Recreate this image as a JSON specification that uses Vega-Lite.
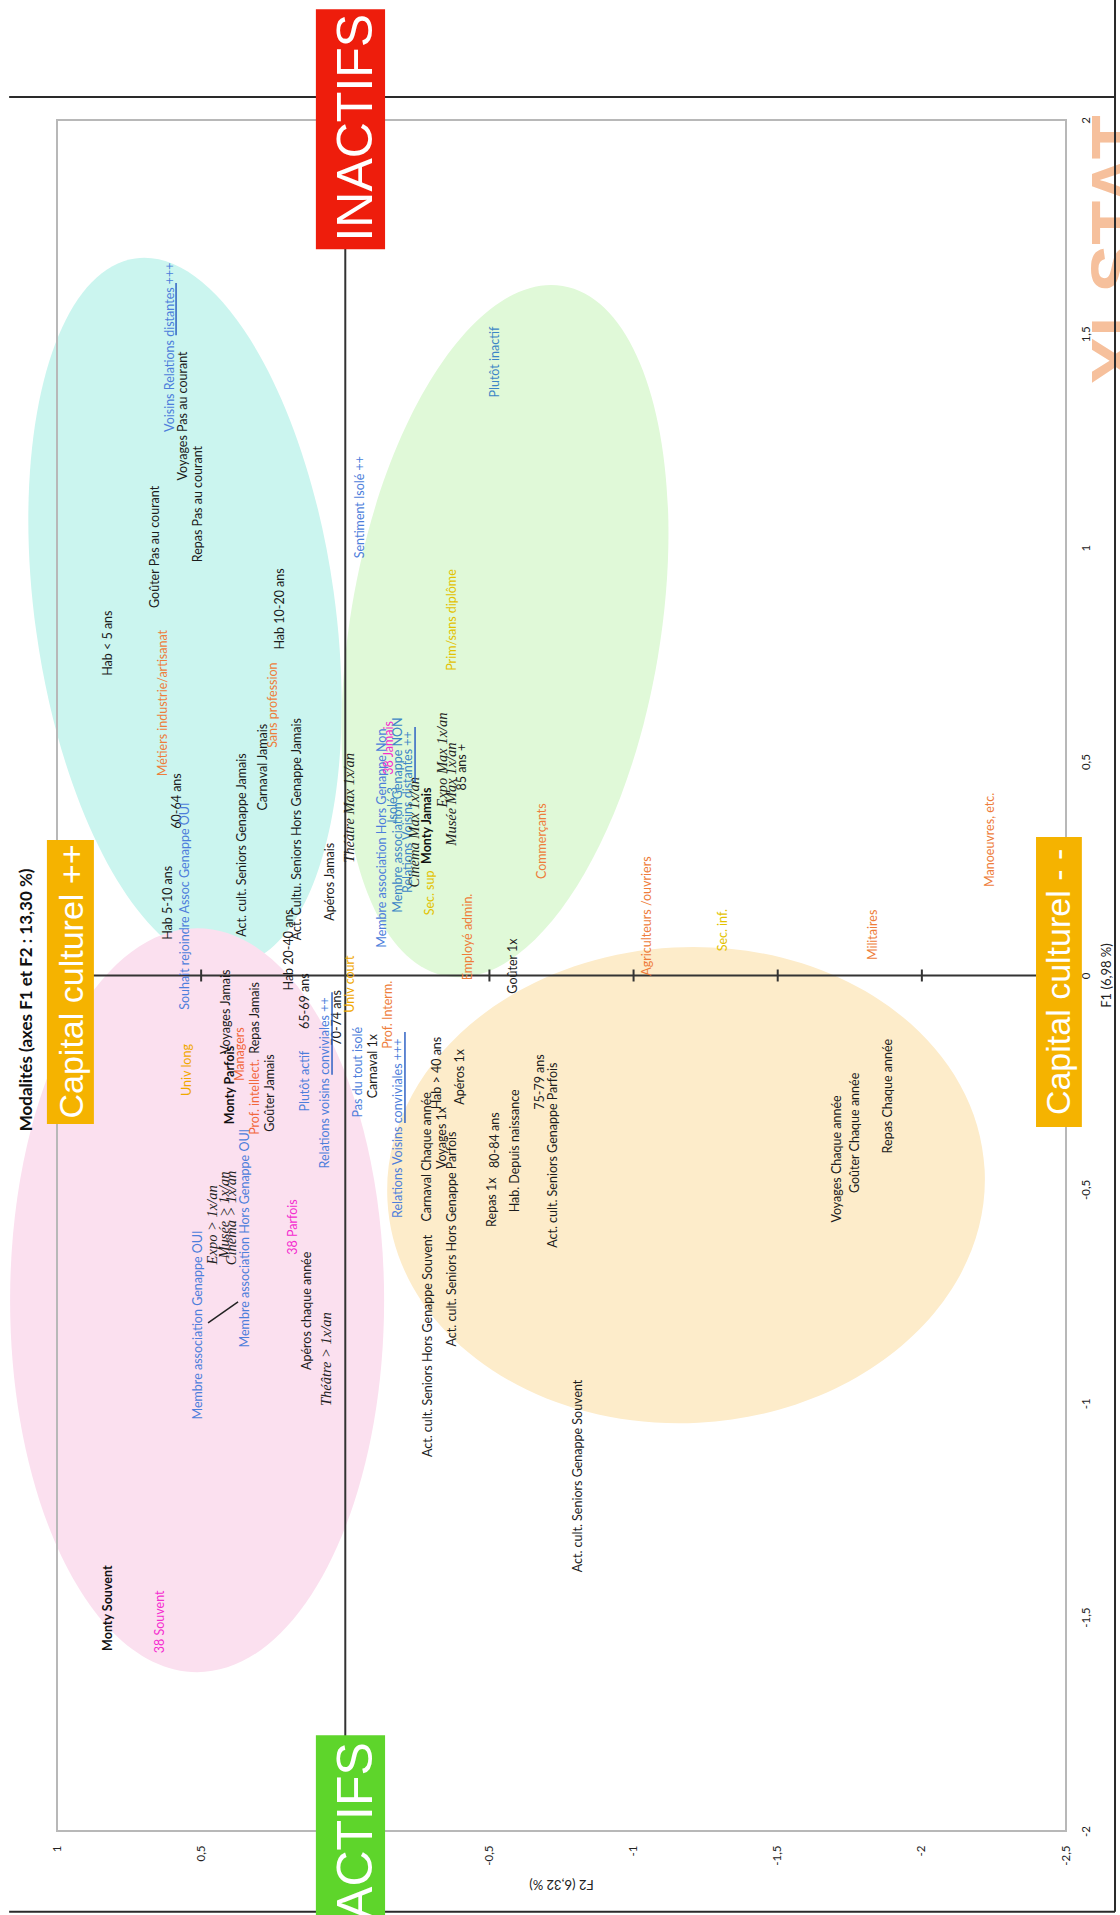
{
  "$schema": "https://vega.github.io/schema/vega-lite/v6.json",
  "width": 1009,
  "height": 1711,
  "autosize": {"type": "none"},
  "padding": {"left": 57, "top": 120, "right": 54, "bottom": 84},
  "background": "white",
  "config": {"view": {"stroke": null}},
  "resolve": {"scale": {"color": "independent"}},
  "datasets": {
    "ell": [
      {"e": "cyan", "F2": 0.556, "F1": 0.85},
      {"e": "vert", "F2": -0.554, "F1": 0.805},
      {"e": "rose", "F2": 0.514, "F1": -0.759},
      {"e": "orange", "F2": -1.182, "F1": -0.49}
    ],
    "cadre": [{"F2": 1, "F2b": -2.5, "F1": 2, "F1b": -2}],
    "seg": [
      {"k": "axe", "F2": 1, "F2b": -2.5, "F1": 0, "F1b": 0},
      {"k": "axe", "F2": 0, "F2b": 0, "F1": 2, "F1b": -2},
      {"k": "axe", "F2": 0.5, "F2b": 0.5, "F1": 0.014, "F1b": -0.014},
      {"k": "axe", "F2": -0.5, "F2b": -0.5, "F1": 0.014, "F1b": -0.014},
      {"k": "axe", "F2": -1, "F2b": -1, "F1": 0.014, "F1b": -0.014},
      {"k": "axe", "F2": -1.5, "F2b": -1.5, "F1": 0.014, "F1b": -0.014},
      {"k": "axe", "F2": -2, "F2b": -2, "F1": 0.014, "F1b": -0.014},
      {"k": "cadre", "F2": 1.166, "F2b": -2.67, "F1": 2.054, "F1b": 2.054},
      {"k": "cadre", "F2": -2.67, "F2b": -2.67, "F1": 2.281, "F1b": -2.189},
      {"k": "cadre", "F2": 1.166, "F2b": -2.67, "F1": -2.189, "F1b": -2.189},
      {"k": "trait", "F2": 0.476, "F2b": 0.372, "F1": -0.812, "F1b": -0.763},
      {"k": "souligne", "F2": 0.587, "F2b": 0.587, "F1": 1.619, "F1b": 1.497},
      {"k": "souligne", "F2": 0.046, "F2b": 0.046, "F1": -0.039, "F1b": -0.232},
      {"k": "souligne", "F2": -0.207, "F2b": -0.207, "F1": -0.132, "F1b": -0.345},
      {"k": "souligne", "F2": -0.242, "F2b": -0.242, "F1": 0.581, "F1b": 0.452}
    ],
    "lab": [
      {"t": "Voisins Relations distantes +++", "g": "b", "F2": 0.608, "F1": 1.469},
      {"t": "Voyages Pas au courant", "g": "n", "F2": 0.563, "F1": 1.308},
      {"t": "Repas Pas au courant", "g": "n", "F2": 0.511, "F1": 1.102},
      {"t": "Goûter Pas au courant", "g": "n", "F2": 0.66, "F1": 1.002},
      {"t": "Hab < 5 ans", "g": "n", "F2": 0.823, "F1": 0.777},
      {"t": "Métiers industrie/artisanat", "g": "o", "F2": 0.632, "F1": 0.637},
      {"t": "Hab 10-20 ans", "g": "n", "F2": 0.226, "F1": 0.857},
      {"t": "Sans profession", "g": "o", "F2": 0.251, "F1": 0.632},
      {"t": "Carnaval Jamais", "g": "n", "F2": 0.285, "F1": 0.487},
      {"t": "60-64 ans", "g": "n", "F2": 0.584, "F1": 0.408},
      {"t": "Souhait rejoindre Assoc Genappe OUI", "g": "b", "F2": 0.556, "F1": 0.162},
      {"t": "Hab 5-10 ans", "g": "n", "F2": 0.615, "F1": 0.17},
      {"t": "Act. cult. Seniors Genappe Jamais", "g": "n", "F2": 0.358, "F1": 0.305},
      {"t": "Act. Cultu. Seniors Hors Genappe Jamais", "g": "n", "F2": 0.168, "F1": 0.342},
      {"t": "Hab 20-40 ans", "g": "n", "F2": 0.195, "F1": 0.06},
      {"t": "Apéros Jamais", "g": "n", "F2": 0.053, "F1": 0.219},
      {"t": "Sentiment Isolé ++", "g": "b", "F2": -0.051, "F1": 1.095},
      {"t": "Plutôt inactif", "g": "s", "F2": -0.519, "F1": 1.434},
      {"t": "Membre association Hors Genappe Non", "g": "b", "F2": -0.127, "F1": 0.321},
      {"t": "38 Jamais", "g": "m", "F2": -0.152, "F1": 0.532},
      {"t": "Isolé 3", "g": "s", "F2": -0.165, "F1": 0.399},
      {"t": "Membre association Genappe NON", "g": "s", "F2": -0.183, "F1": 0.375},
      {"t": "Relations Voisins distantes ++", "g": "s", "F2": -0.218, "F1": 0.382},
      {"t": "Sec. sup", "g": "j", "F2": -0.294, "F1": 0.193},
      {"t": "85 ans +", "g": "n", "F2": -0.405, "F1": 0.487},
      {"t": "Prim/sans diplôme", "g": "j", "F2": -0.37, "F1": 0.831},
      {"t": "Commerçants", "g": "o", "F2": -0.682, "F1": 0.314},
      {"t": "Employé admin.", "g": "o", "F2": -0.426, "F1": 0.09},
      {"t": "Agriculteurs /ouvriers", "g": "o", "F2": -1.047, "F1": 0.139},
      {"t": "Sec. inf.", "g": "j", "F2": -1.31, "F1": 0.106},
      {"t": "Goûter 1x", "g": "n", "F2": -0.582, "F1": 0.022},
      {"t": "Manoeuvres, etc.", "g": "o", "F2": -2.236, "F1": 0.317},
      {"t": "Militaires", "g": "o", "F2": -1.83, "F1": 0.095},
      {"t": "Univ long", "g": "u", "F2": 0.549, "F1": -0.221},
      {"t": "Voyages Jamais", "g": "n", "F2": 0.414, "F1": -0.085},
      {"t": "Managers", "g": "r", "F2": 0.365, "F1": -0.184},
      {"t": "Prof. intellect.", "g": "r", "F2": 0.313, "F1": -0.284},
      {"t": "Repas Jamais", "g": "n", "F2": 0.313, "F1": -0.099},
      {"t": "Goûter Jamais", "g": "n", "F2": 0.261, "F1": -0.275},
      {"t": "65-69 ans", "g": "n", "F2": 0.14, "F1": -0.06},
      {"t": "Plutôt actif", "g": "b", "F2": 0.14, "F1": -0.247},
      {"t": "Relations voisins conviviales ++", "g": "b", "F2": 0.07, "F1": -0.251},
      {"t": "70-74 ans", "g": "n", "F2": 0.029, "F1": -0.099},
      {"t": "Univ court", "g": "u", "F2": -0.016, "F1": -0.02},
      {"t": "Pas du tout isolé", "g": "b", "F2": -0.044, "F1": -0.226},
      {"t": "Carnaval 1x", "g": "n", "F2": -0.096, "F1": -0.212},
      {"t": "Membre association Genappe OUI", "g": "b", "F2": 0.511, "F1": -0.817},
      {"t": "Membre association Hors Genappe OUI", "g": "b", "F2": 0.348, "F1": -0.614},
      {"t": "38 Parfois", "g": "m", "F2": 0.181, "F1": -0.588},
      {"t": "Apéros chaque année", "g": "n", "F2": 0.133, "F1": -0.784},
      {"t": "Relations Voisins conviviales +++", "g": "b", "F2": -0.183, "F1": -0.357},
      {"t": "Prof. Interm.", "g": "o", "F2": -0.148, "F1": -0.092},
      {"t": "Act. cult. Seniors Hors Genappe Souvent", "g": "n", "F2": -0.287, "F1": -0.866},
      {"t": "Carnaval Chaque année", "g": "n", "F2": -0.283, "F1": -0.424},
      {"t": "Hab > 40 ans", "g": "n", "F2": -0.318, "F1": -0.228},
      {"t": "Voyages 1x", "g": "n", "F2": -0.335, "F1": -0.38},
      {"t": "Act. cult. Seniors Hors Genappe Parfois", "g": "n", "F2": -0.37, "F1": -0.616},
      {"t": "Apéros 1x", "g": "n", "F2": -0.398, "F1": -0.237},
      {"t": "Repas 1x", "g": "n", "F2": -0.509, "F1": -0.53},
      {"t": "80-84 ans", "g": "n", "F2": -0.519, "F1": -0.385},
      {"t": "Hab. Depuis naissance", "g": "n", "F2": -0.589, "F1": -0.41},
      {"t": "75-79 ans", "g": "n", "F2": -0.675, "F1": -0.249},
      {"t": "Act. cult. Seniors Genappe Parfois", "g": "n", "F2": -0.72, "F1": -0.42},
      {"t": "Act. cult. Seniors Genappe Souvent", "g": "n", "F2": -0.807, "F1": -1.17},
      {"t": "Voyages Chaque année", "g": "n", "F2": -1.706, "F1": -0.429},
      {"t": "Goûter Chaque année", "g": "n", "F2": -1.768, "F1": -0.368},
      {"t": "Repas Chaque année", "g": "n", "F2": -1.882, "F1": -0.282},
      {"t": "38 Souvent", "g": "m", "F2": 0.643, "F1": -1.511}
    ],
    "gras": [
      {"t": "Monty Jamais", "F2": -0.283, "F1": 0.35},
      {"t": "Monty Parfois", "F2": 0.4, "F1": -0.256},
      {"t": "Monty Souvent", "F2": 0.823, "F1": -1.479}
    ],
    "ital": [
      {"t": "Théâtre Max 1x/an", "F2": -0.016, "F1": 0.392},
      {"t": "Cinéma Max 1x/an", "F2": -0.242, "F1": 0.335},
      {"t": "Expo Max 1x/an", "F2": -0.339, "F1": 0.504},
      {"t": "Musée Max 1x/an", "F2": -0.37, "F1": 0.424},
      {"t": "Expo > 1x/an", "F2": 0.459, "F1": -0.583},
      {"t": "Musée > 1x/an", "F2": 0.417, "F1": -0.56},
      {"t": "Cinéma > 1x/an", "F2": 0.393, "F1": -0.567},
      {"t": "Théâtre > 1x/an", "F2": 0.063, "F1": -0.897}
    ],
    "boites": [
      {"b": "rouge", "F2": 0.102, "F2b": -0.138, "F1": 2.259, "F1b": 1.698},
      {"b": "vert", "F2": 0.102, "F2b": -0.138, "F1": -1.776, "F1b": -2.3},
      {"b": "or", "F2": 1.035, "F2b": 0.872, "F1": 0.317, "F1b": -0.347},
      {"b": "or", "F2": -2.396, "F2b": -2.555, "F1": 0.324, "F1b": -0.354}
    ],
    "grandtxt": [
      {"t": "INACTIFS", "F2": -0.093, "F1": 1.982},
      {"t": "ACTIFS", "F2": -0.093, "F1": -2.0}
    ],
    "moyentxt": [
      {"t": "Capital culturel ++", "F2": 0.91, "F1": -0.014},
      {"t": "Capital culturel - -", "F2": -2.514, "F1": -0.015}
    ],
    "titre": [{"t": "Modalités (axes F1 et F2 : 13,30 %)", "F2": 1.104, "F1": -0.057}],
    "filigrane": [{"t": "XLSTAT", "F2": -2.764, "F1": 1.696}]
  },
  "encoding": {
    "x": {
      "field": "F2",
      "type": "quantitative",
      "scale": {"domain": [-2.5, 1], "reverse": true, "nice": false, "zero": false},
      "axis": {
        "orient": "bottom",
        "values": [1, 0.5, 0, -0.5, -1, -1.5, -2, -2.5],
        "format": ".1~f",
        "labelExpr": "replace(replace(datum.label, '.', ','), '−', '-')",
        "labelAngle": 270,
        "labelAlign": "right",
        "labelBaseline": "middle",
        "labelPadding": 14,
        "labelFont": "Lato",
        "labelFontSize": 11.5,
        "labelColor": "#222222",
        "labelFlush": false,
        "labelOverlap": false,
        "ticks": false,
        "tickSize": 0,
        "domain": false,
        "grid": false,
        "title": "F2 (6,32 %)",
        "titleAngle": 180,
        "titleX": 504,
        "titleY": 52,
        "titleAlign": "center",
        "titleBaseline": "middle",
        "titleFont": "Lato",
        "titleFontSize": 13,
        "titleFontWeight": "normal",
        "titleColor": "#222222"
      }
    },
    "y": {
      "field": "F1",
      "type": "quantitative",
      "scale": {"domain": [-2, 2], "nice": false, "zero": false},
      "axis": {
        "orient": "right",
        "values": [2, 1.5, 1, 0.5, 0, -0.5, -1, -1.5, -2],
        "format": ".1~f",
        "labelExpr": "replace(replace(datum.label, '.', ','), '−', '-')",
        "labelAngle": 270,
        "labelAlign": "center",
        "labelBaseline": "top",
        "labelPadding": 14,
        "labelFont": "Lato",
        "labelFontSize": 11.5,
        "labelColor": "#222222",
        "labelFlush": false,
        "labelOverlap": false,
        "ticks": false,
        "tickSize": 0,
        "domain": false,
        "grid": false,
        "title": "F1 (6,98 %)",
        "titleAngle": 270,
        "titleX": 40,
        "titleY": 855,
        "titleAlign": "center",
        "titleBaseline": "middle",
        "titleFont": "Lato",
        "titleFontSize": 13,
        "titleFontWeight": "normal",
        "titleColor": "#222222"
      }
    }
  },
  "layer": [
    {
      "data": {"name": "filigrane"},
      "mark": {"type": "text", "angle": 270, "align": "center", "baseline": "alphabetic", "font": "Liberation Sans", "fontWeight": "bold", "fontSize": 72, "color": "#f6c09c"},
      "encoding": {"text": {"field": "t"}}
    },
    {
      "data": {"name": "ell"},
      "transform": [{"filter": "datum.e == 'cyan'"}],
      "mark": {"type": "point", "filled": true, "opacity": 1, "strokeWidth": 0, "color": "#cbf5ef", "size": 509796, "angle": -8,
        "shape": "M 0.4202 0 C 0.4202 0.5523 0.2321 1 0 1 C -0.2321 1 -0.4202 0.5523 -0.4202 0 C -0.4202 -0.5523 -0.2321 -1 0 -1 C 0.2321 -1 0.4202 -0.5523 0.4202 0 Z"}
    },
    {
      "data": {"name": "ell"},
      "transform": [{"filter": "datum.e == 'rose'"}],
      "mark": {"type": "point", "filled": true, "opacity": 1, "strokeWidth": 0, "color": "#fbe0ef", "size": 553536, "angle": 0,
        "shape": "M 0.5027 0 C 0.5027 0.5523 0.2776 1 0 1 C -0.2776 1 -0.5027 0.5523 -0.5027 0 C -0.5027 -0.5523 -0.2776 -1 0 -1 C 0.2776 -1 0.5027 -0.5523 0.5027 0 Z"}
    },
    {
      "data": {"name": "ell"},
      "transform": [{"filter": "datum.e == 'orange'"}],
      "mark": {"type": "point", "filled": true, "opacity": 1, "strokeWidth": 0, "color": "#fdecca", "size": 357604, "angle": -3,
        "shape": "M 1 0 C 1 0.4396 0.5523 0.796 0 0.796 C -0.5523 0.796 -1 0.4396 -1 0 C -1 -0.4396 -0.5523 -0.796 0 -0.796 C 0.5523 -0.796 1 -0.4396 1 0 Z"}
    },
    {
      "data": {"name": "ell"},
      "transform": [{"filter": "datum.e == 'vert'"}],
      "mark": {"type": "point", "filled": true, "opacity": 1, "strokeWidth": 0, "color": "#e0f9d8", "size": 490000, "angle": 9.5,
        "shape": "M 0.4429 0 C 0.4429 0.5523 0.2446 1 0 1 C -0.2446 1 -0.4429 0.5523 -0.4429 0 C -0.4429 -0.5523 -0.2446 -1 0 -1 C 0.2446 -1 0.4429 -0.5523 0.4429 0 Z"}
    },
    {
      "data": {"name": "cadre"},
      "mark": {"type": "rect", "filled": false, "color": "#b8b8b8", "strokeWidth": 2},
      "encoding": {"x2": {"field": "F2b"}, "y2": {"field": "F1b"}}
    },
    {
      "data": {"name": "seg"},
      "transform": [{"filter": "datum.k == 'axe'"}],
      "mark": {"type": "rule", "color": "#333333", "strokeWidth": 2},
      "encoding": {"x2": {"field": "F2b"}, "y2": {"field": "F1b"}}
    },
    {
      "data": {"name": "seg"},
      "transform": [{"filter": "datum.k == 'cadre'"}],
      "mark": {"type": "rule", "color": "#2a2a2a", "strokeWidth": 2},
      "encoding": {"x2": {"field": "F2b"}, "y2": {"field": "F1b"}}
    },
    {
      "data": {"name": "lab"},
      "mark": {"type": "text", "angle": 270, "align": "center", "baseline": "middle", "font": "Lato", "fontSize": 12.5},
      "encoding": {
        "text": {"field": "t"},
        "color": {
          "field": "g",
          "type": "nominal",
          "scale": {"domain": ["n", "b", "s", "o", "r", "j", "u", "m"], "range": ["#1c1c1c", "#4d7edb", "#3d86c6", "#ee7d3b", "#f2673c", "#e3c200", "#f0a800", "#f52ccf"]},
          "legend": null
        }
      }
    },
    {
      "data": {"name": "gras"},
      "mark": {"type": "text", "angle": 270, "align": "center", "baseline": "middle", "font": "Lato", "fontWeight": "bold", "fontSize": 12.5, "color": "#111111"},
      "encoding": {"text": {"field": "t"}}
    },
    {
      "data": {"name": "ital"},
      "mark": {"type": "text", "angle": 270, "align": "center", "baseline": "middle", "font": "Liberation Serif", "fontStyle": "italic", "fontSize": 14.5, "color": "#222222"},
      "encoding": {"text": {"field": "t"}}
    },
    {
      "data": {"name": "seg"},
      "transform": [{"filter": "datum.k == 'trait'"}],
      "mark": {"type": "rule", "color": "#222222", "strokeWidth": 1.5},
      "encoding": {"x2": {"field": "F2b"}, "y2": {"field": "F1b"}}
    },
    {
      "data": {"name": "seg"},
      "transform": [{"filter": "datum.k == 'souligne'"}],
      "mark": {"type": "rule", "color": "#2f62c4", "strokeWidth": 1.5},
      "encoding": {"x2": {"field": "F2b"}, "y2": {"field": "F1b"}}
    },
    {
      "data": {"name": "boites"},
      "mark": {"type": "rect"},
      "encoding": {
        "x2": {"field": "F2b"},
        "y2": {"field": "F1b"},
        "color": {"field": "b", "type": "nominal", "scale": {"domain": ["rouge", "vert", "or"], "range": ["#ee1d0c", "#5ed52b", "#f5b300"]}, "legend": null}
      }
    },
    {
      "data": {"name": "grandtxt"},
      "mark": {"type": "text", "angle": 270, "align": "center", "baseline": "alphabetic", "font": "Liberation Sans", "fontSize": 50, "color": "white"},
      "encoding": {"text": {"field": "t"}}
    },
    {
      "data": {"name": "moyentxt"},
      "mark": {"type": "text", "angle": 270, "align": "center", "baseline": "alphabetic", "font": "Liberation Sans", "fontSize": 34, "color": "white"},
      "encoding": {"text": {"field": "t"}}
    },
    {
      "data": {"name": "titre"},
      "mark": {"type": "text", "angle": 270, "align": "center", "baseline": "middle", "font": "Lato", "fontWeight": "bold", "fontSize": 17, "color": "#111111"},
      "encoding": {"text": {"field": "t"}}
    }
  ]
}
